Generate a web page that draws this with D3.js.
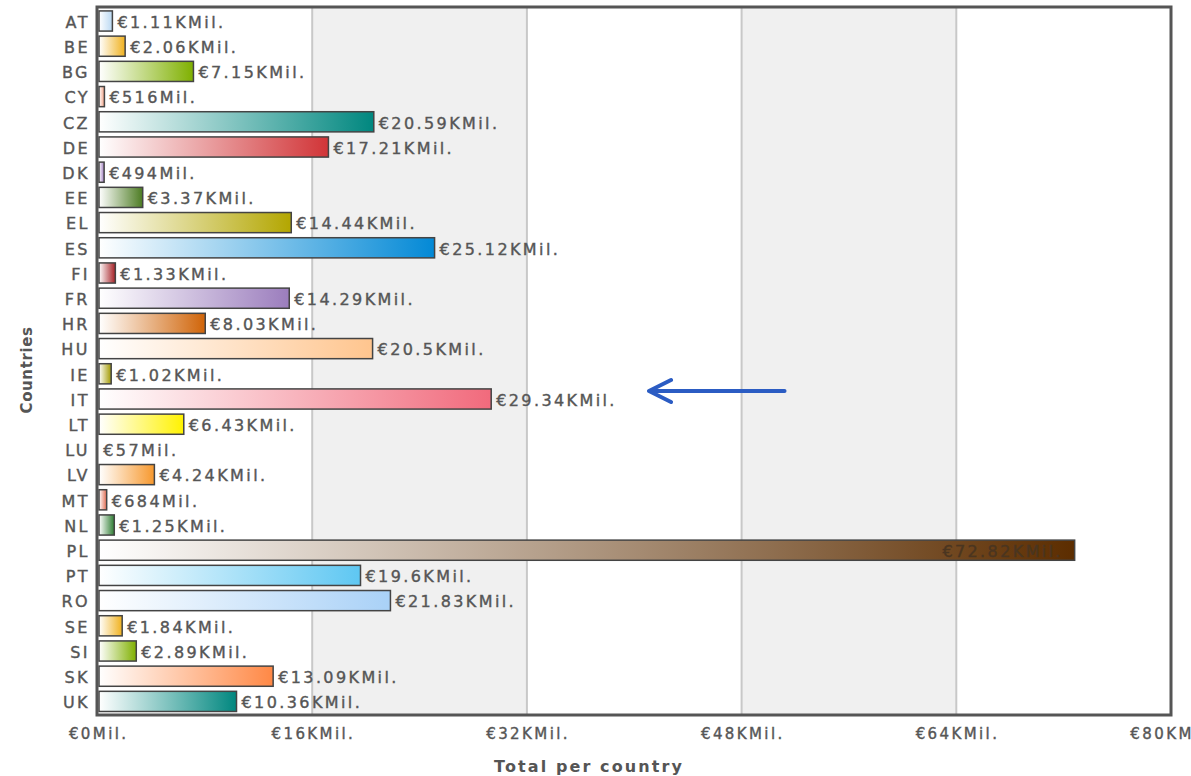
<!DOCTYPE html>
<html><head><meta charset="utf-8">
<script src="https://cdn.jsdelivr.net/npm/d3@7"></script>
<style>
html,body{margin:0;padding:0;background:#fff;}
svg{display:block;}
text{font-family:"DejaVu Sans",Verdana,sans-serif;fill:#555;}
text.thick{stroke:#5a5a5a;stroke-width:0.4px;}
</style></head><body>
<svg id="chart" width="1191" height="776"></svg>
<script>
const countries = ["AT","BE","BG","CY","CZ","DE","DK","EE","EL","ES","FI","FR","HR","HU","IE","IT","LT","LU","LV","MT","NL","PL","PT","RO","SE","SI","SK","UK"];
const values = [1.11,2.06,7.15,0.516,20.59,17.21,0.494,3.37,14.44,25.12,1.33,14.29,8.03,20.5,1.02,29.34,6.43,0.057,4.24,0.684,1.25,72.82,19.6,21.83,1.84,2.89,13.09,10.36];
const labels = ["€1.11KMil.","€2.06KMil.","€7.15KMil.","€516Mil.","€20.59KMil.","€17.21KMil.","€494Mil.","€3.37KMil.","€14.44KMil.","€25.12KMil.","€1.33KMil.","€14.29KMil.","€8.03KMil.","€20.5KMil.","€1.02KMil.","€29.34KMil.","€6.43KMil.","€57Mil.","€4.24KMil.","€684Mil.","€1.25KMil.","€72.82KMil.","€19.6KMil.","€21.83KMil.","€1.84KMil.","€2.89KMil.","€13.09KMil.","€10.36KMil."];
const colors = ["#b9d8f2","#f0b11e","#7fb000","#f3a184","#00877f","#d13437","#a07cc0","#4c7b22","#b3a600","#0389d6","#a51f24","#9b7dbd","#d06408","#ffc58e","#a39a00","#f16a7c","#fff200","#f5a08a","#f7982d","#e06a50","#2e7d32","#5c2d00","#5ec7f2","#a9d1f7","#f0b11e","#7fb000","#ff8845","#00877f"];
const xTicks = [0,16,32,48,64,80];
const xTickLabels = ["€0Mil.","€16KMil.","€32KMil.","€48KMil.","€64KMil.","€80KMil."];
const xTitle = "Total per country";
const yTitle = "Countries";

const svg = d3.select("#chart");
const L = 97.5, R = 1171, T = 7, B = 715;
const LS = 2.4;
const x = d3.scaleLinear().domain([0,80]).range([L,R]);
const y = d3.scaleBand().domain(countries).range([8.4,714]).paddingInner(0.2).paddingOuter(0.1);

const defs = svg.append("defs");
colors.forEach((c,i)=>{
  const g = defs.append("linearGradient").attr("id","g"+i).attr("x1","0").attr("x2","1").attr("y1","0").attr("y2","0");
  g.append("stop").attr("offset","0").attr("stop-color","#ffffff");
  g.append("stop").attr("offset","1").attr("stop-color",c);
});

// alternating bands
for (let i=0;i<xTicks.length-1;i++){
  svg.append("rect").attr("x",x(xTicks[i])).attr("y",T).attr("width",x(xTicks[i+1])-x(xTicks[i])).attr("height",B-T)
    .attr("fill", i%2===1 ? "#f0f0f0" : "#ffffff");
}
// grid lines
svg.append("g").selectAll("line").data(xTicks.slice(1,-1)).join("line")
  .attr("x1",d=>x(d)).attr("x2",d=>x(d)).attr("y1",T).attr("y2",B)
  .attr("stroke","#c8c8c8").attr("stroke-width",2);

// bars
const idx = d3.range(countries.length);
svg.append("g").selectAll("rect").data(idx).join("rect")
  .attr("x",x(0)+1.5)
  .attr("y",i=>y(countries[i]))
  .attr("width",i=>Math.max(0,x(values[i])-x(0)-1.5))
  .attr("height",y.bandwidth())
  .attr("fill",i=>`url(#g${i})`)
  .attr("stroke",i=>values[i]>0.1?"#444":"none").attr("stroke-width",1.5);

// value labels
svg.append("g").selectAll("text").data(idx).join("text")
  .attr("class","thick")
  .attr("x",i=> values[i]>60 ? x(values[i])-14+LS : x(values[i])+5)
  .attr("y",i=>y(countries[i])+y.bandwidth()/2+1)
  .attr("dy","0.36em")
  .attr("text-anchor",i=> values[i]>60 ? "end" : "start")
  .style("font-size","16px").style("letter-spacing",LS+"px")
  .style("fill",i=> values[i]>60 ? "#4a3520" : "#555")
  .style("stroke",i=> values[i]>60 ? "#4a3520" : null)
  .text(i=>labels[i]);

// y axis labels
svg.append("g").selectAll("text").data(countries).join("text")
  .attr("class","thick")
  .attr("x",L-10+LS).attr("y",d=>y(d)+y.bandwidth()/2+1).attr("dy","0.36em")
  .attr("text-anchor","end").style("font-size","16px").style("letter-spacing",LS+"px")
  .text(d=>d);

// x axis labels
svg.append("g").selectAll("text").data(xTicks).join("text")
  .attr("class","thick")
  .attr("x",d=>x(d)+LS/2).attr("y",739).attr("text-anchor","middle")
  .style("font-size","15px").style("letter-spacing",LS+"px")
  .text((d,i)=>xTickLabels[i]);

// frame
svg.append("rect").attr("x",L-0.5).attr("y",T).attr("width",R-L+0.5).attr("height",B-T)
  .attr("fill","none").attr("stroke","#555").attr("stroke-width",3);

// titles
svg.append("text").attr("x",589).attr("y",772).attr("text-anchor","middle")
  .style("font-size","16px").style("font-weight","bold").style("letter-spacing","2.1px").text(xTitle);
svg.append("text").attr("transform","translate(32,370) rotate(-90)").attr("text-anchor","middle")
  .style("font-size","15px").style("font-weight","bold").style("letter-spacing","0.6px").text(yTitle);

// annotation arrow near IT
const ay = y("IT")+y.bandwidth()/2 - 8;
const tipX = x(41.1), endX = x(51.2);
svg.append("path")
  .attr("d",`M${endX},${ay}L${tipX},${ay}M${tipX+22},${ay-11}L${tipX},${ay}L${tipX+22},${ay+11}`)
  .attr("fill","none").attr("stroke","#2b5cc3").attr("stroke-width",4).attr("stroke-linecap","round").attr("stroke-linejoin","round");
</script>
</body></html>
